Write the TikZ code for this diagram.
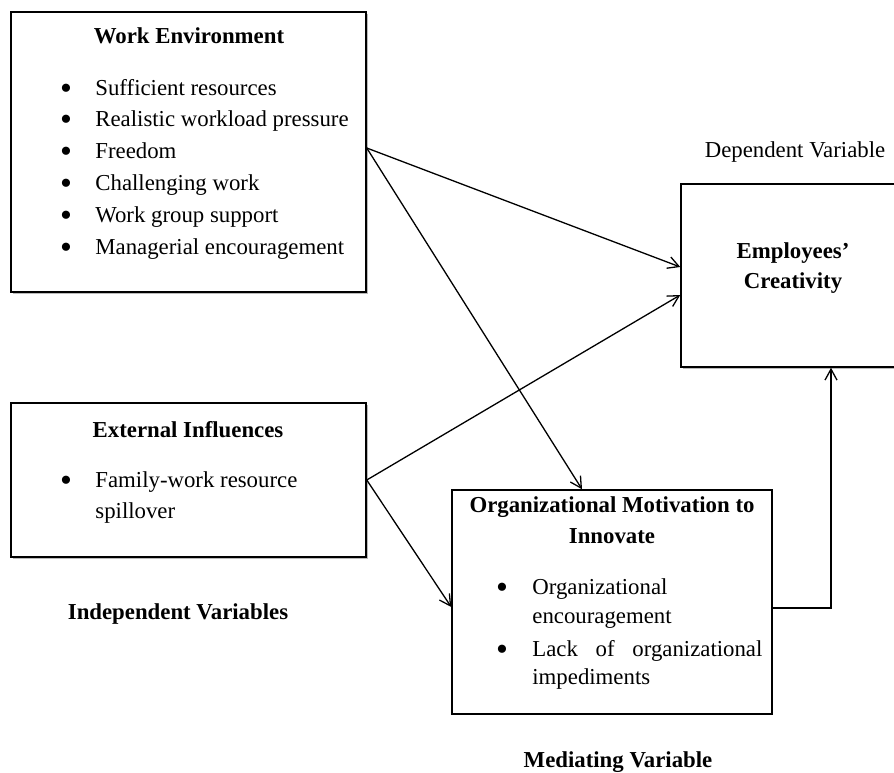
\documentclass[tikz,border=0pt]{standalone}
\usepackage{fontspec}
\setmainfont{Liberation Serif}
\usetikzlibrary{fit,shadows,arrows.meta}

\tikzset{
  box/.style={draw,line width=0.75pt,fill=white,inner sep=0pt},
  shadowbox/.style={box,drop shadow={shadow xshift=0.9pt,shadow yshift=-0.9pt,fill=black!45,opacity=0.6}},
  heading/.style={font=\fontsize{11.4}{14}\selectfont\bfseries,anchor=base,inner sep=0pt},
  caption/.style={anchor=base,inner sep=0pt},
  entry/.style={anchor=base west,inner sep=0pt},
  bullet/.style={font=\fontsize{17}{17}\selectfont,anchor=base,inner sep=0pt,yshift=-2pt},
  link/.style={-{Straight Barb[length=5.5pt,width=6pt]},line width=0.65pt},
}

\begin{document}
\begin{tikzpicture}[x=0.5pt,y=-0.5pt,font=\fontsize{11.4}{14}\selectfont]
\useasboundingbox (0,0) rectangle (894,772);

% boxes
\node [shadowbox,fit={(11,12) (366,292)}]   (workenv)    {};
\node [shadowbox,fit={(11,403) (366,557)}]  (external)   {};
\node [shadowbox,fit={(681,184) (898,367)}] (creativity) {};
\node [box,fit={(452,490) (772,714)}]       (motivation) {};

% work environment
\node [heading] (wetitle) at (189,43) {Work Environment};
\node [bullet] (web1) at (66,95)  {\textbullet};
\node [bullet] (web2) at (66,126) {\textbullet};
\node [bullet] (web3) at (66,158) {\textbullet};
\node [bullet] (web4) at (66,190) {\textbullet};
\node [bullet] (web5) at (66,222) {\textbullet};
\node [bullet] (web6) at (66,254) {\textbullet};
\node [entry] (we1) at (95,95)  {Sufficient resources};
\node [entry] (we2) at (95,126) {Realistic workload pressure};
\node [entry] (we3) at (95,158) {Freedom};
\node [entry] (we4) at (95,190) {Challenging work};
\node [entry] (we5) at (95,222) {Work group support};
\node [entry] (we6) at (95,254) {Managerial encouragement};

% external influences
\node [heading] (eititle) at (188,437) {External Influences};
\node [bullet] (eib1) at (66,487) {\textbullet};
\node [entry] (ei1a) at (95,487) {Family-work resource};
\node [entry] (ei1b) at (95,518) {spillover};
\node [heading] (independent) at (178,619) {Independent Variables};

% employees' creativity
\node [caption] (dependent) at (795,157) {Dependent Variable};
\node [heading] (ectitle1) at (793,258) {Employees'};
\node [heading] (ectitle2) at (793,288) {Creativity};

% organizational motivation
\node [heading] (omtitle1) at (612,512) {Organizational Motivation to};
\node [heading] (omtitle2) at (612,543) {Innovate};
\node [bullet] (omb1) at (502,594) {\textbullet};
\node [entry] (om1a) at (532,594) {Organizational};
\node [entry] (om1b) at (532,623) {encouragement};
\node [bullet] (omb2) at (502,656) {\textbullet};
\node [entry] (om2a) at (532,656) {\makebox[115pt][s]{Lack of organizational}};
\node [entry] (om2b) at (532,684) {impediments};
\node [heading] (mediating) at (618,767) {Mediating Variable};

% links
\draw [link] ([yshift=2pt]workenv.east) -- ([yshift=4.25pt]creativity.west);
\draw [link] ([yshift=2pt]workenv.east) -- ([xshift=-15pt]motivation.north);
\draw [link] (external.east) -- ([yshift=-9.75pt]creativity.west);
\draw [link] (external.east) -- ([yshift=-2.5pt]motivation.west);
\draw [link] ([yshift=-3pt]motivation.east) -| ([xshift=20.75pt]creativity.south);
\end{tikzpicture}
\end{document}
